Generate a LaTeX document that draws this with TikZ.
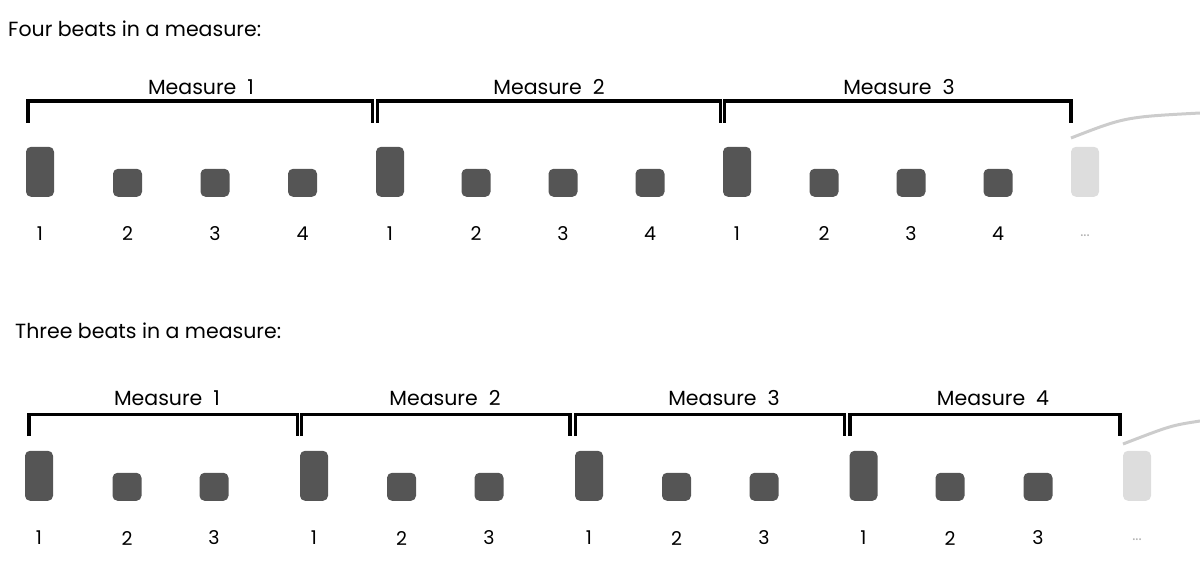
\documentclass[tikz,border=0pt]{standalone}
\usepackage{fontspec}
\setmainfont{Poppins}
\usetikzlibrary{positioning}
\definecolor{beatgray}{HTML}{555555}
\definecolor{restgray}{HTML}{DDDDDD}
\definecolor{arcgray}{HTML}{CCCCCC}
\definecolor{dotgray}{HTML}{B0B0B0}
\tikzset{
  beat/.style={fill=beatgray, rounded corners=5pt, inner sep=0pt, anchor=south, minimum width=28pt},
  down/.style={beat, minimum height=50pt},
  up/.style={beat, minimum height=28pt, minimum width=29pt},
  rest/.style={down, fill=restgray},
  num/.style={font=\fontsize{19}{21}\selectfont, inner sep=0pt},
  label/.style={font=\fontsize{20.5}{22}\selectfont, inner sep=0pt},
  title/.style={font=\fontsize{20.5}{22}\selectfont, inner sep=0pt, anchor=west},
  dots/.style={font=\fontsize{15}{17}\selectfont, text=dotgray, inner sep=0pt},
  bar/.style={line width=3.2pt},
  arc/.style={draw=arcgray, line width=3pt}
}
\begin{document}
\begin{tikzpicture}[x=1pt, y=-1pt]
\useasboundingbox (0,0) rectangle (1200,566);
\node[title] (four) at (8,29) {Four beats in a measure:};
\foreach \x/\n/\s [count=\i] in {40/1/down,127.5/2/up,215/3/up,302.5/4/up,390/1/down,476/2/up,563/3/up,650/4/up,737/1/down,824/2/up,911/3/up,998/4/up}{
  \node[\s] (t\i) at (\x,197) {};
  \node[num] (tn\i) at (\x,234) {\n};
}
\node[rest] (t13) at (1085,197) {};
\node[dots] (tn13) at (1085,236) {...};
\foreach \l/\r/\m/\c [count=\i] in {28/372.5/201/1,377.5/720.5/549/2,724.5/1071/899/3}{
  \coordinate (tl\i) at (\l,122.5);
  \coordinate (tr\i) at (\r,122.5);
  \draw[bar] (tl\i) -- ++(0,-21.5) -| (tr\i);
  \node[label] (tm\i) at (\m,87) {Measure~~\c};
}
\coordinate (ta) at (1071,138);
\coordinate (tb) at (1200,113);
\draw[arc] (ta) .. controls (1125,117) .. (tb);

\node[title] (three) at (15,331) {Three beats in a measure:};
\foreach \x/\n/\s [count=\i] in {39/1/down,127/2/up,214/3/up,314/1/down,401.5/2/up,489/3/up,589/1/down,676.5/2/up,764/3/up,863.5/1/down,950/2/up,1038/3/up}{
  \node[\s] (b\i) at (\x,501) {};
  \node[num] (bn\i) at (\x,538) {\n};
}
\node[rest] (b13) at (1137,501) {};
\node[dots] (bn13) at (1137,540) {...};
\foreach \l/\r/\m/\c [count=\i] in {29/297.5/167/1,301.5/570/445/2,575.5/844.5/724/3,850/1120/993/4}{
  \coordinate (bl\i) at (\l,436);
  \coordinate (br\i) at (\r,436);
  \draw[bar] (bl\i) -- ++(0,-21.5) -| (br\i);
  \node[label] (bm\i) at (\m,398) {Measure~~\c};
}
\coordinate (ba) at (1123,444);
\coordinate (bb) at (1200,421);
\draw[arc] (ba) .. controls (1171,425.5) .. (bb);
\end{tikzpicture}
\end{document}
